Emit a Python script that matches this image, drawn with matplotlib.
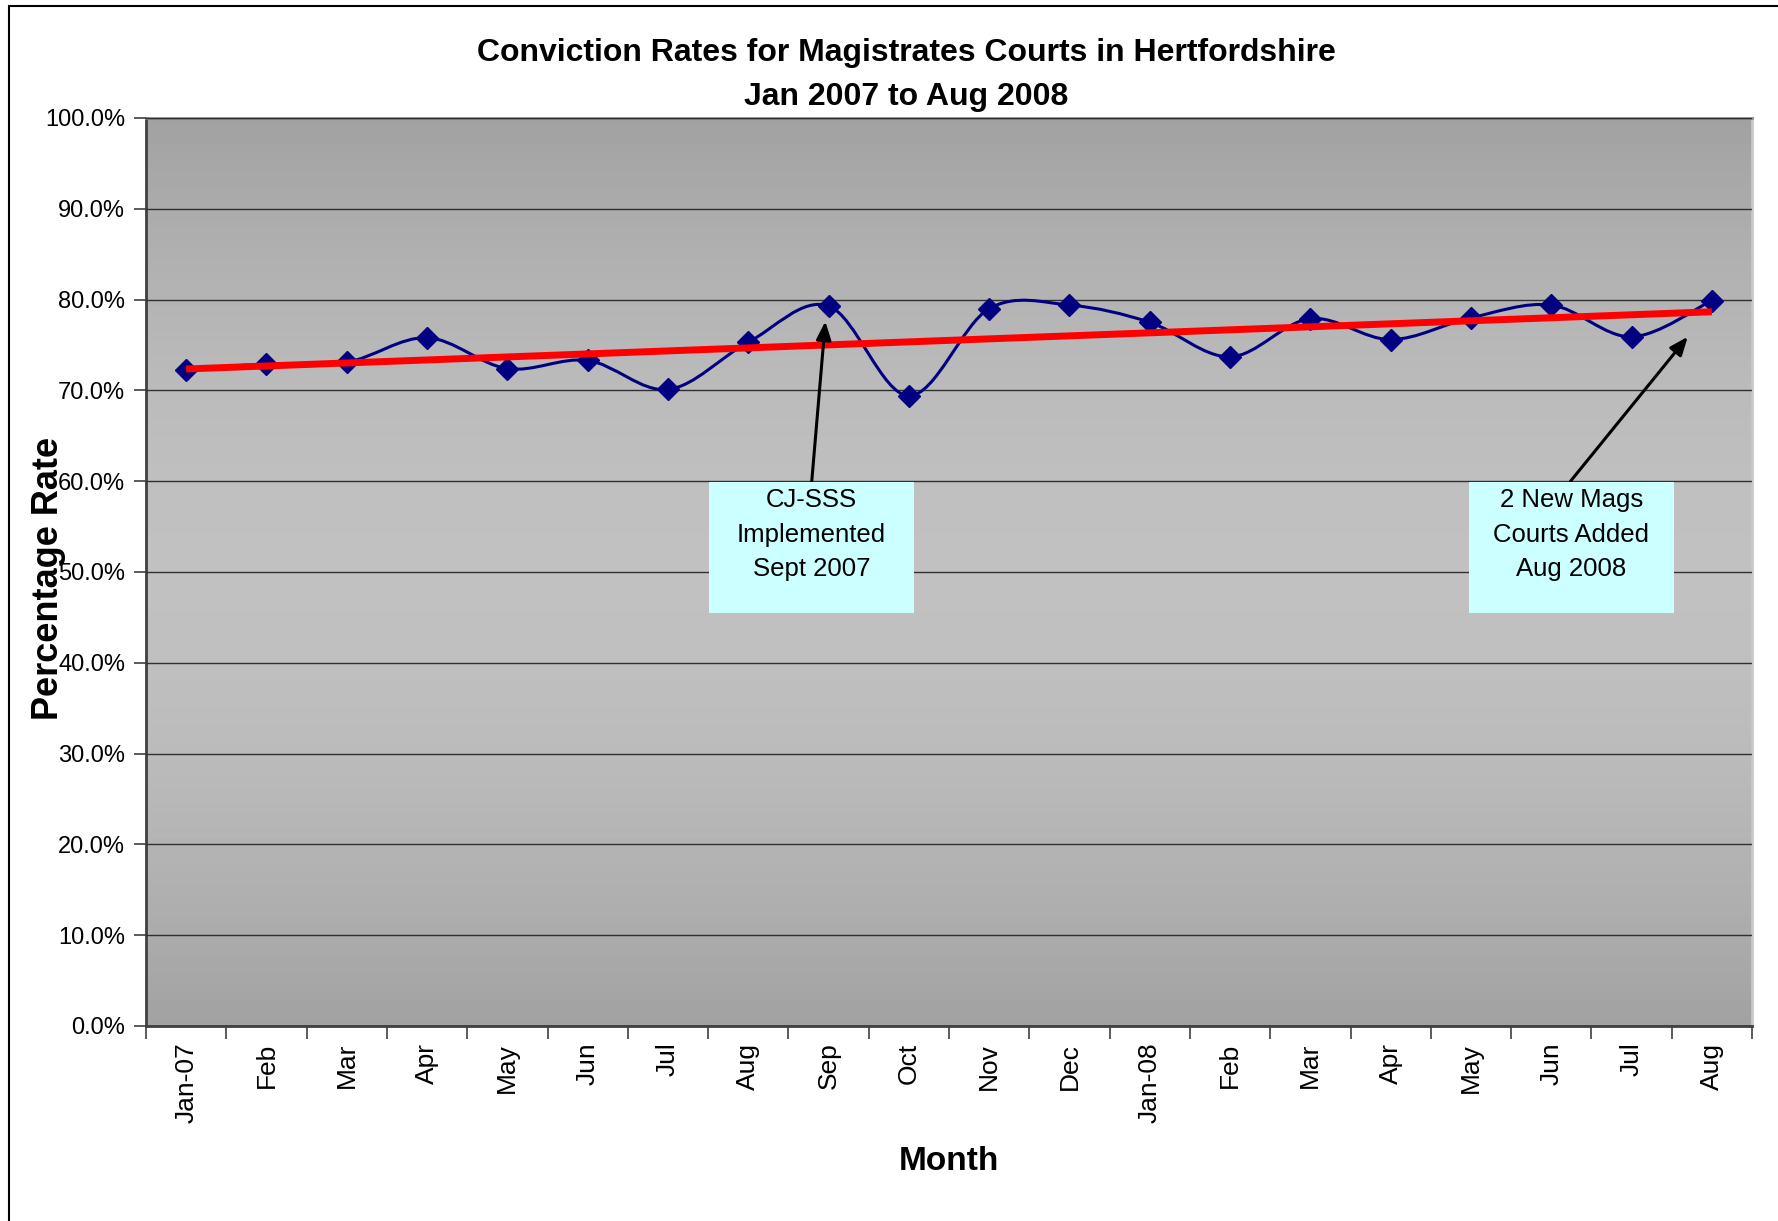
import numpy as np
import matplotlib
matplotlib.use("Agg")
import matplotlib.pyplot as plt
from matplotlib.path import Path
from matplotlib.patches import PathPatch, Rectangle
from matplotlib.ticker import FixedLocator, PercentFormatter

plt.rcParams['font.family'] = ['Liberation Sans', 'DejaVu Sans']

# ── Data ───────────────────────────────────────────────────────────────────
months = ["Jan-07", "Feb", "Mar", "Apr", "May", "Jun", "Jul", "Aug", "Sep", "Oct",
          "Nov", "Dec", "Jan-08", "Feb", "Mar", "Apr", "May", "Jun", "Jul", "Aug"]
rates = [72.3, 72.9, 73.1, 75.8, 72.4, 73.3, 70.1, 75.3, 79.3, 69.4,
         79.0, 79.4, 77.5, 73.7, 77.9, 75.6, 78.0, 79.4, 75.9, 79.9]

notes = ["CJ-SSS\nImplemented\nSept 2007", "2 New Mags\nCourts Added\nAug 2008"]
note_pos = [(7.79, 52.7), (17.25, 52.7)]      # box centre (category, %)
note_from = [(7.79, 59.9), (17.24, 60.0)]
note_to = [(7.96, 77.6), (18.70, 75.9)]

x = np.arange(len(months))
y = np.array(rates)

fig = plt.figure(figsize=(17.78, 12.21), dpi=100)
ax = fig.add_axes([146 / 1778, 1 - 1026 / 1221, (1752 - 146) / 1778, (1026 - 118) / 1221])

# frame round the chart area
fig.add_artist(Rectangle((9 / 1778, -0.1), 1.2, 1 - 6 / 1221 + 0.1, transform=fig.transFigure,
                         fill=False, edgecolor='black', linewidth=1.5))

ax.set_xlim(-0.5, len(months) - 0.5)
ax.set_ylim(0, 100)

# grey gradient background (dark at top / bottom, light in middle)
t = np.linspace(0, 1, 256)
shade = 0.635 + 0.12 * np.sin(np.pi * t)
ax.imshow(shade[:, None], cmap='gray', vmin=0, vmax=1, aspect='auto',
          extent=[-0.5, len(months) - 0.5, 0, 100], origin='lower', zorder=0)

ax.yaxis.set_major_locator(FixedLocator(np.arange(0, 101, 10)))
ax.yaxis.set_major_formatter(PercentFormatter(decimals=1))
ax.grid(axis='y', color='#303030', linewidth=1.0, zorder=1)
ax.set_axisbelow(False)

ax.set_xticks(x)
ax.set_xticklabels(months, rotation=90, fontsize=19)
ax.set_xticks(np.arange(-0.5, len(months)), minor=True)
ax.tick_params(axis='x', which='major', length=0, pad=12)
ax.tick_params(axis='x', which='minor', length=9, width=1.2, color='#404040', direction='out')
ax.tick_params(axis='y', length=9, width=1.2, color='#404040', labelsize=17, pad=6)

for side, col in [('left', '#404040'), ('bottom', '#404040'), ('top', '#8a8a8a'), ('right', '#c8c8c8')]:
    ax.spines[side].set_color(col)
    ax.spines[side].set_linewidth(2)

# smoothed line (Excel style bezier through the points)
verts = [(x[0], y[0])]
codes = [Path.MOVETO]
n = len(x)
for i in range(n - 1):
    p0 = np.array([x[max(i - 1, 0)], y[max(i - 1, 0)]])
    p1 = np.array([x[i], y[i]])
    p2 = np.array([x[i + 1], y[i + 1]])
    p3 = np.array([x[min(i + 2, n - 1)], y[min(i + 2, n - 1)]])
    c1 = p1 + (p2 - p0) / 6
    c2 = p2 - (p3 - p1) / 6
    verts += [tuple(c1), tuple(c2), tuple(p2)]
    codes += [Path.CURVE4] * 3
ax.add_patch(PathPatch(Path(verts, codes), facecolor='none', edgecolor='#000080',
                       linewidth=2.2, zorder=3))
ax.plot(x, y, linestyle='none', marker='D', markersize=11, color='#000080', zorder=4)

# linear trend line
k, b = np.polyfit(x, y, 1)
ax.plot(x[[0, -1]], k * x[[0, -1]] + b, color='#ff0000', linewidth=5, solid_capstyle='butt', zorder=5)

# call-outs
for txt, (cx, cy), (fx, fy), (tx, ty) in zip(notes, note_pos, note_from, note_to):
    ax.annotate('', xy=(tx, ty), xytext=(fx, fy),
                arrowprops=dict(arrowstyle='-|>,head_length=1.1,head_width=0.45',
                                color='black', linewidth=2.2, shrinkA=0, shrinkB=0), zorder=6)
    ax.add_patch(Rectangle((cx - 1.275, 45.5), 2.55, 14.4, facecolor='#ccffff',
                           edgecolor='none', zorder=7))
    ax.text(cx, 59.2, txt, ha='center', va='top', fontsize=18.5, linespacing=1.55, zorder=8)

fig.text(906 / 1778, 1 - 53 / 1221, "Conviction Rates for Magistrates Courts in Hertfordshire",
         ha='center', va='center', fontsize=23, fontweight='bold')
fig.text(906 / 1778, 1 - 97 / 1221, "Jan 2007 to Aug 2008",
         ha='center', va='center', fontsize=23, fontweight='bold')
fig.text(949 / 1778, 1 - 1161 / 1221, "Month", ha='center', va='center',
         fontsize=24, fontweight='bold')
fig.text(48 / 1778, 1 - 578 / 1221, "Percentage Rate", ha='center', va='center',
         rotation=90, fontsize=26, fontweight='bold')

fig.savefig("out.png", dpi=100)
